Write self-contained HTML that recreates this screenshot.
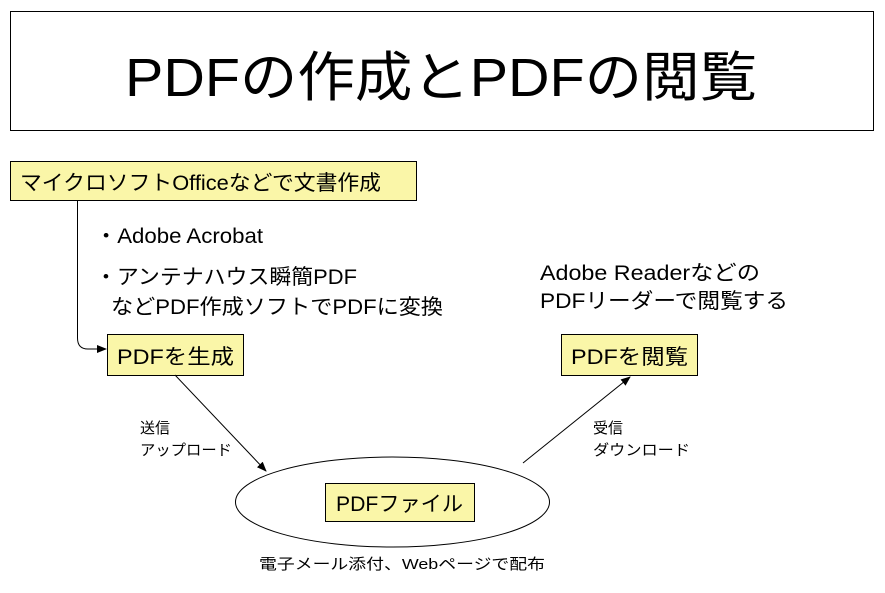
<!DOCTYPE html>
<html><head><meta charset="utf-8"><style>body{margin:0;background:#fff}svg{display:block}text{font-family:"Liberation Sans","Noto Sans CJK JP",sans-serif;fill:#000}</style></head><body>
<svg width="885" height="593" viewBox="0 0 885 593" xmlns="http://www.w3.org/2000/svg">
<defs><marker id="a" markerWidth="10" markerHeight="8" refX="9" refY="4" orient="auto" markerUnits="userSpaceOnUse"><path d="M0,0 L10,4 L0,8 z" fill="#000"/></marker></defs>
<rect x="10.5" y="11.5" width="863" height="119" fill="#fff" stroke="#000"/>
<text x="125" y="96" font-size="54" textLength="632" lengthAdjust="spacingAndGlyphs">PDFの作成とPDFの閲覧</text>
<rect x="10.5" y="161.5" width="406" height="39" fill="#FAF6A8" stroke="#000"/>
<text x="20" y="190" font-size="21" textLength="361" lengthAdjust="spacingAndGlyphs">マイクロソフトOfficeなどで文書作成</text>
<path d="M77.5,200 L77.5,338 Q77.5,349 88,349 L106,349" fill="none" stroke="#000" marker-end="url(#a)"/>
<text x="95" y="243" font-size="21" textLength="168" lengthAdjust="spacingAndGlyphs">・Adobe Acrobat</text>
<text x="95" y="284" font-size="21" textLength="262" lengthAdjust="spacingAndGlyphs">・アンテナハウス瞬簡PDF</text>
<text x="111" y="314" font-size="21" textLength="332" lengthAdjust="spacingAndGlyphs">などPDF作成ソフトでPDFに変換</text>
<text x="540" y="280" font-size="21" textLength="220" lengthAdjust="spacingAndGlyphs">Adobe Readerなどの</text>
<text x="540" y="308" font-size="21" textLength="248" lengthAdjust="spacingAndGlyphs">PDFリーダーで閲覧する</text>
<rect x="107.5" y="334.5" width="136" height="41" fill="#FAF6A8" stroke="#000"/>
<text x="117" y="364" font-size="21" textLength="117" lengthAdjust="spacingAndGlyphs">PDFを生成</text>
<rect x="561.5" y="334.5" width="136" height="41" fill="#FAF6A8" stroke="#000"/>
<text x="571" y="364" font-size="21" textLength="117" lengthAdjust="spacingAndGlyphs">PDFを閲覧</text>
<line x1="175" y1="375" x2="266" y2="471" stroke="#000" marker-end="url(#a)"/>
<line x1="523" y1="463" x2="630" y2="377" stroke="#000" marker-end="url(#a)"/>
<text x="140" y="433" font-size="15">送信</text>
<text x="140" y="455" font-size="15" textLength="92" lengthAdjust="spacingAndGlyphs">アップロード</text>
<text x="593" y="433" font-size="15">受信</text>
<text x="593" y="455" font-size="15" textLength="97" lengthAdjust="spacingAndGlyphs">ダウンロード</text>
<ellipse cx="392.5" cy="502" rx="157" ry="45" fill="#fff" stroke="#000"/>
<rect x="325.5" y="483.5" width="149" height="38" fill="#FAF6A8" stroke="#000"/>
<text x="336" y="511" font-size="21" textLength="127" lengthAdjust="spacingAndGlyphs">PDFファイル</text>
<text x="259" y="569" font-size="15" textLength="286" lengthAdjust="spacingAndGlyphs">電子メール添付、Webページで配布</text>
</svg>
</body></html>
